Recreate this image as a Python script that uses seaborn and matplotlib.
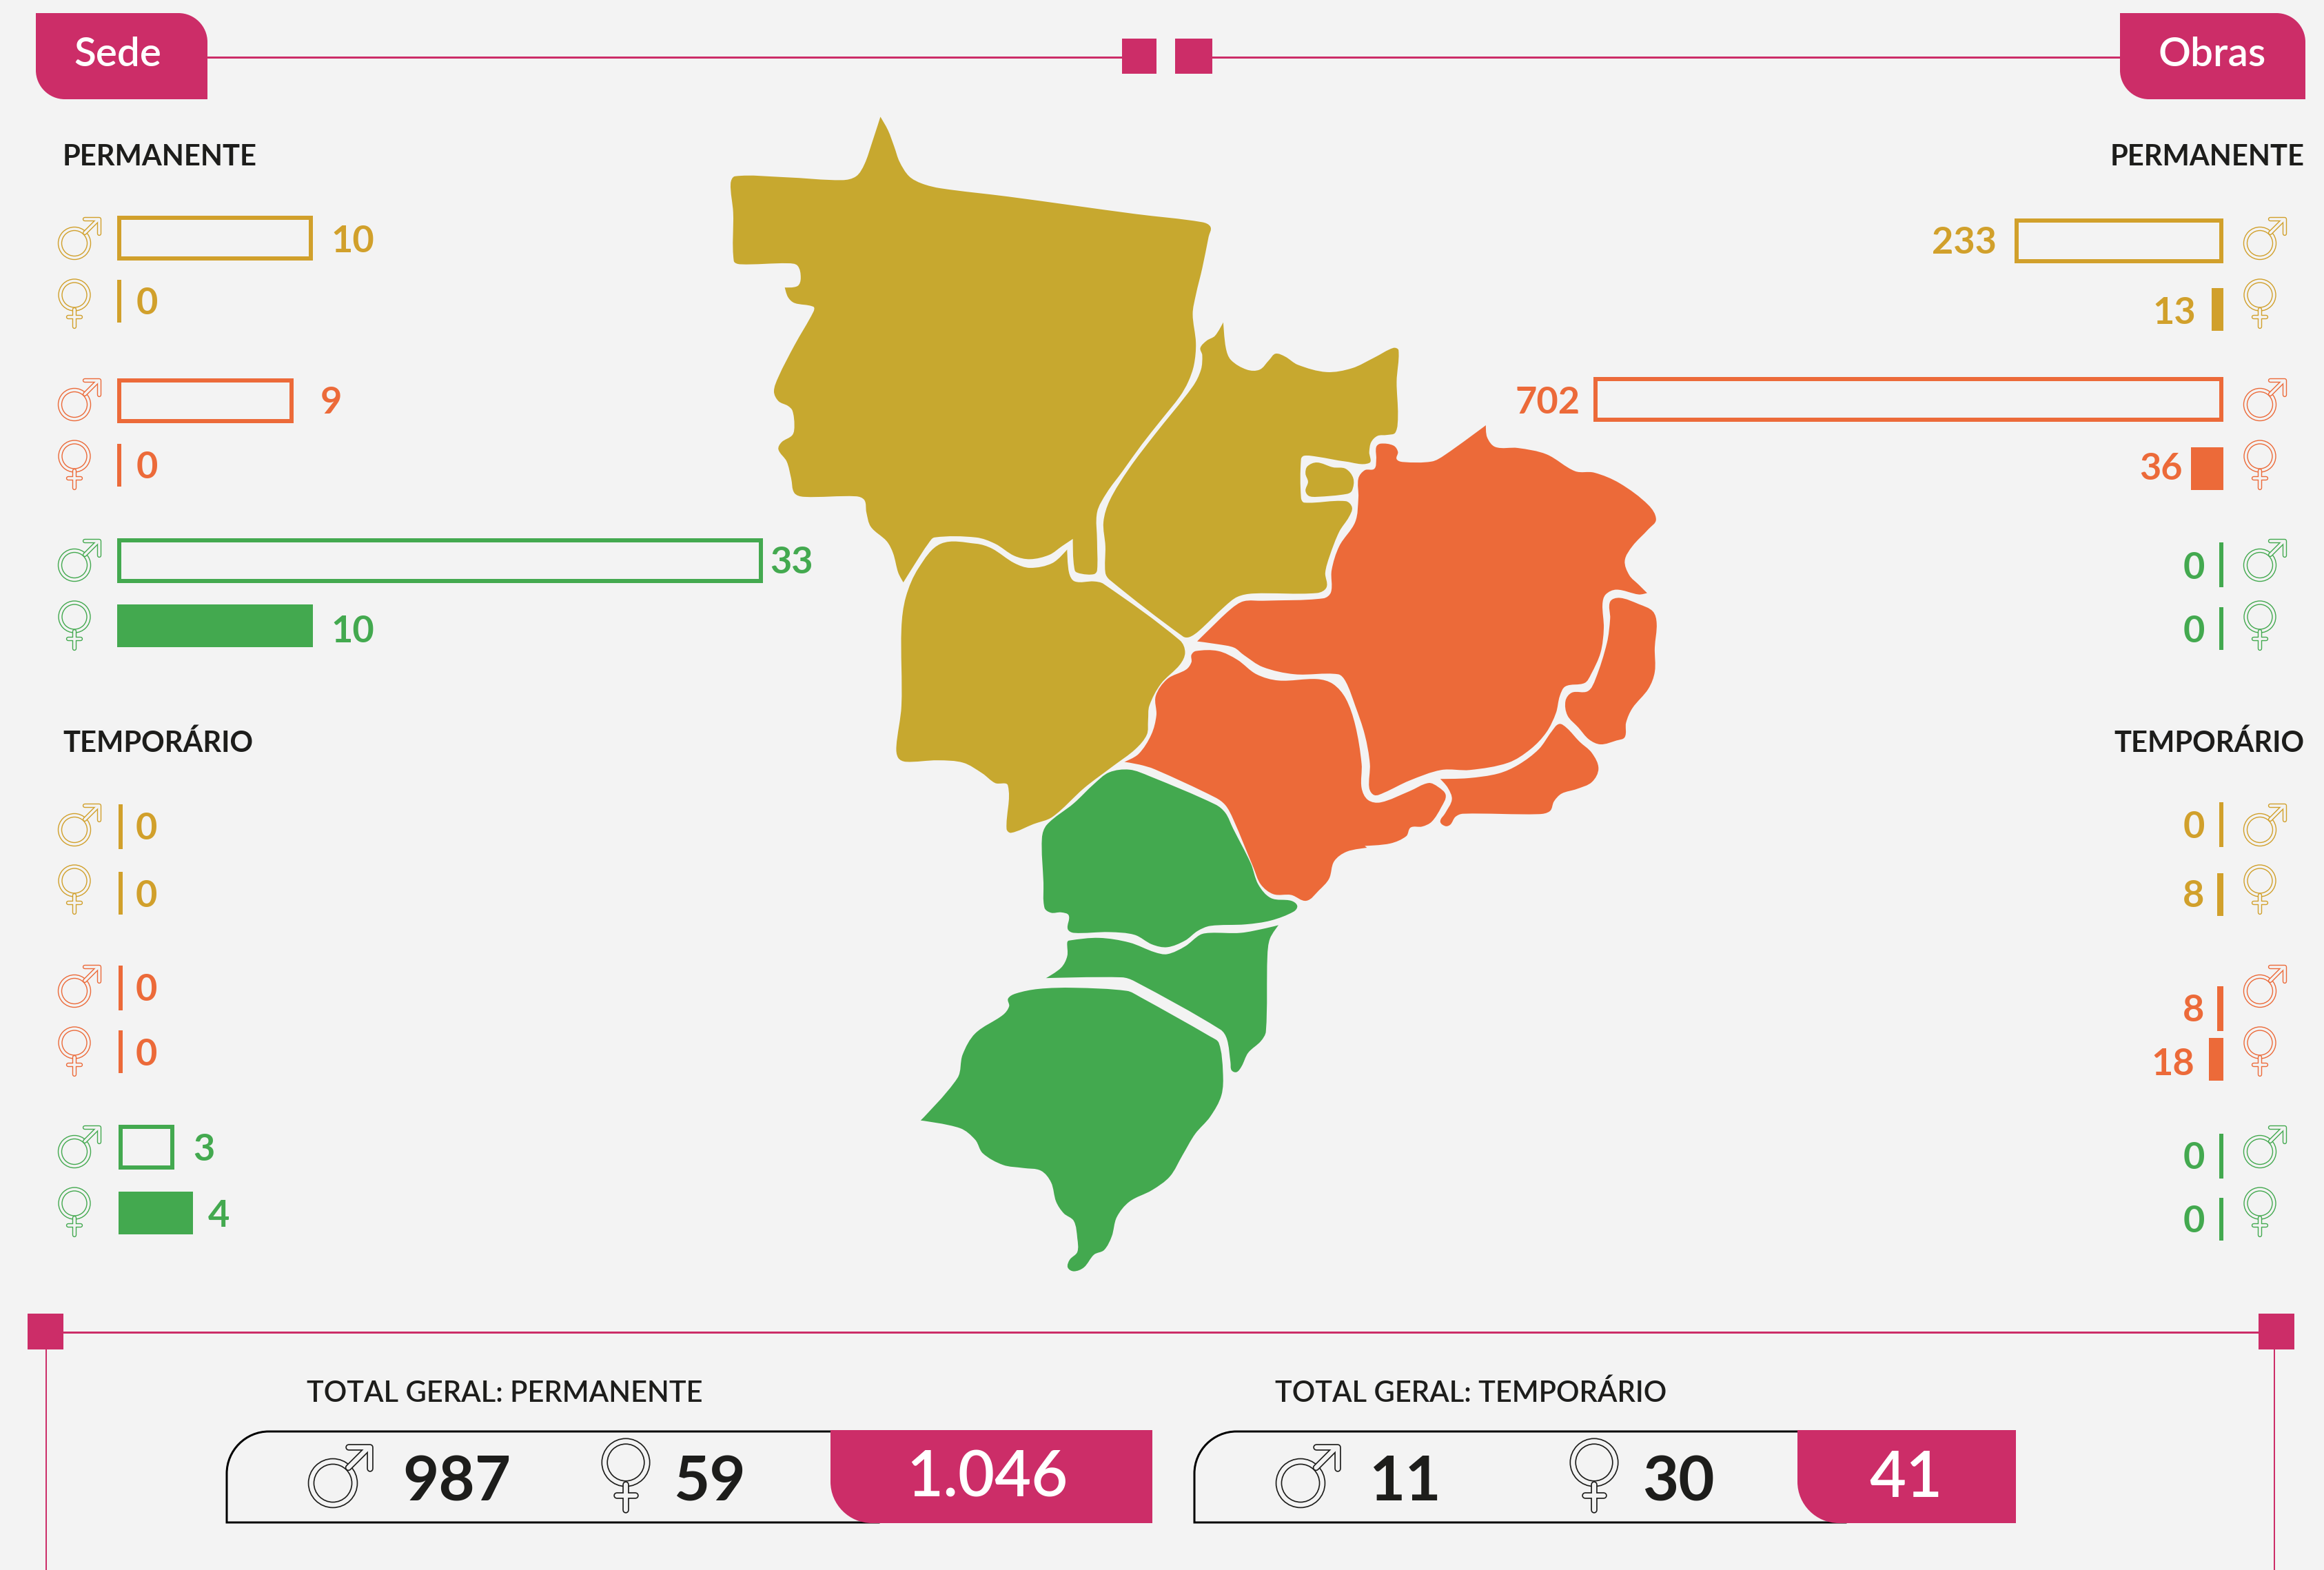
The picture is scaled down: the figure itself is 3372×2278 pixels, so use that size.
import matplotlib
matplotlib.use("Agg")
import matplotlib.pyplot as plt
from matplotlib.patches import Circle, PathPatch, Rectangle
from matplotlib.path import Path
import numpy as np
import seaborn as sns

W, H = 3372, 2278
PT = 0.72  # px to pt at dpi 100

BG = "#F3F3F3"
PINK = "#CC2D68"
DARK = "#1D1D1B"
GROUP_COLORS = ["#D1A02B", "#EC6A39", "#43A94F"]
MAP_GOLD = "#C7A82F"

# --- data
groups = ["g1", "g2", "g3"]
sede_perm_men = [10, 9, 33]
sede_perm_women = [0, 0, 10]
sede_temp_men = [0, 0, 3]
sede_temp_women = [0, 0, 4]
obras_perm_men = [233, 702, 0]
obras_perm_women = [13, 36, 0]
obras_temp_men = [0, 8, 0]
obras_temp_women = [8, 18, 0]

total_labels = ["TOTAL GERAL: PERMANENTE", "TOTAL GERAL: TEMPORÁRIO"]
total_men = ["987", "11"]
total_women = ["59", "30"]
total_all = ["1.046", "41"]

region_a = [(300,42),(312,70),(322,105),(330,135),(345,165),(365,180),(395,190),(500,207),(600,225),(700,243),(805,260),(818,270),(815,290),(805,355),(795,410),(790,450),(795,510),(792,555),(783,590),(770,620),(740,670),(710,720),(680,775),(655,820),(640,860),(640,920),(640,980),(635,988),(615,987),(605,980),(602,915),(585,930),(565,948),(535,957),(510,950),(480,925),(450,912),(385,912),(375,925),(355,965),(336,1005),(328,985),(320,945),(310,920),(285,890),(278,860),(275,835),(262,827),(180,828),(165,820),(160,790),(153,755),(140,730),(145,715),(162,700),(165,680),(162,650),(155,640),(140,630),(133,610),(140,580),(165,515),(195,445),(195,435),(165,427),(155,415),(150,395),(170,392),(175,375),(170,350),(155,345),(80,347),(70,340),(69,240),(65,180),(72,165),(150,167),(240,173),(262,165),(275,140),(287,95)]
region_b = [(838,467),(842,520),(850,545),(875,565),(895,565),(910,545),(920,532),(935,538),(955,555),(1000,570),(1040,562),(1075,540),(1105,520),(1113,525),(1110,590),(1112,660),(1108,695),(1095,700),(1080,702),(1070,715),(1067,735),(1067,758),(1030,755),(985,745),(965,743),(960,750),(960,830),(965,840),(1030,837),(1040,850),(1035,870),(1020,900),(1005,950),(998,985),(1000,1015),(985,1027),(885,1028),(860,1035),(840,1055),(800,1105),(785,1118),(775,1117),(660,1000),(653,985),(653,930),(650,880),(660,835),(690,770),(730,700),(790,600),(803,565),(805,535),(802,520),(812,505),(825,495)]
region_b2 = [(970,765),(985,757),(1010,767),(1030,770),(1042,790),(1040,815),(1032,822),(985,828),(972,826),(967,815),(971,797),(967,780)]
region_c = [(395,925),(450,925),(475,935),(510,965),(535,975),(570,965),(593,937),(596,985),(605,1003),(635,1003),(650,1008),(770,1125),(778,1150),(770,1175),(740,1215),(722,1260),(720,1290),(718,1320),(700,1350),(665,1385),(620,1430),(570,1490),(540,1505),(505,1523),(498,1515),(500,1425),(480,1420),(460,1400),(430,1378),(390,1373),(340,1376),(328,1368),(325,1345),(333,1260),(333,1100),(340,1035),(360,975)]
region_d = [(1250,680),(1252,705),(1265,725),(1300,727),(1345,740),(1390,775),(1420,778),(1460,800),(1505,845),(1517,875),(1505,895),(1480,930),(1468,960),(1475,990),(1490,1010),(1503,1027),(1490,1030),(1455,1020),(1438,1030),(1433,1050),(1435,1100),(1430,1150),(1415,1195),(1405,1213),(1375,1220),(1366,1240),(1360,1275),(1345,1315),(1320,1350),(1285,1378),(1225,1393),(1180,1393),(1130,1415),(1090,1440),(1075,1445),(1067,1430),(1068,1380),(1060,1320),(1045,1260),(1030,1210),(1018,1195),(950,1195),(900,1180),(870,1155),(855,1140),(830,1133),(797,1127),(810,1110),(850,1060),(870,1044),(900,1043),(995,1038),(1007,1025),(1008,980),(1020,930),(1045,880),(1050,830),(1050,790),(1060,773),(1075,770),(1078,750),(1078,725),(1085,718),(1105,722),(1112,735),(1110,750),(1120,756),(1165,755),(1185,742)]
region_e = [(1445,1045),(1460,1037),(1490,1050),(1512,1065),(1518,1090),(1515,1140),(1515,1190),(1505,1225),(1480,1265),(1470,1295),(1468,1325),(1455,1332),(1430,1340),(1412,1330),(1395,1305),(1378,1280),(1375,1250),(1385,1233),(1410,1230),(1422,1205),(1440,1130),(1445,1080)]
region_f_top = [(795,1147),(830,1147),(860,1165),(890,1195),(925,1208),(985,1205),(1010,1215),(1030,1245),(1045,1300),(1055,1380),(1055,1430),(1065,1455),(1085,1460),(1130,1437),(1160,1420),(1175,1428),(1187,1445),(1180,1470),(1165,1500),(1150,1510),(1132,1512),(1125,1530),(1100,1545),(1060,1550)]
region_f_low = [(1000,410),(960,420),(935,445),(925,490),(905,520),(880,547),(850,532),(815,530),(790,505),(775,460),(735,335),(720,300),(700,280),(580,207),(550,195),(520,188)]
region_f_back = [(705,1360),(725,1320),(733,1280),(732,1240),(750,1205),(780,1185),(788,1170),(788,1155)]
region_g = [(1145,232),(1200,230),(1260,218),(1300,195),(1340,155),(1365,110),(1380,90),(1395,100),(1420,135),(1445,165),(1458,205),(1445,240),(1415,258),(1385,270),(1370,290),(1362,315),(1340,323),(1190,322),(1175,330),(1165,350),(1155,354),(1145,342),(1155,320),(1168,285),(1160,255)]
region_h = [(490,215),(530,208),(570,225),(700,298),(720,320),(735,360),(770,450),(785,505),(810,540),(850,547),(862,560),(855,575),(810,598),(760,608),(690,612),(665,625),(640,650),(605,667),(575,660),(540,635),(490,628),(420,630),(408,620),(410,585),(395,577),(375,578),(362,565),(360,500),(357,385),(367,350),(420,295),(460,245)]
region_i = [(410,650),(470,643),(530,655),(580,680),(605,685),(640,665),(670,635),(690,630),(750,630),(800,618),(825,610),(808,645),(803,690),(800,885),(790,910),(765,940),(752,975),(742,990),(732,985),(730,965),(723,905),(710,880),(540,755),(515,745),(365,747),(395,720),(407,690),(407,655)]
region_j = [(305,787),(350,775),(420,772),(525,780),(550,795),(690,898),(707,915),(715,990),(712,1050),(690,1105),(660,1150),(635,1205),(610,1260),(575,1295),(530,1325),(505,1365),(495,1415),(480,1450),(460,1462),(440,1495),(420,1505),(408,1495),(412,1475),(427,1455),(427,1420),(420,1375),(400,1355),(385,1325),(375,1275),(355,1245),(320,1238),(280,1230),(240,1200),(225,1165),(195,1135),(117,1115),(190,1005),(200,945),(225,890),(280,842),(292,820),(290,800)]


def crop_a(pts):
    pts = np.array(pts, float)
    return np.c_[1000 + pts[:, 0] / 1.0814, 140 + pts[:, 1] / 1.4255]


def crop_b(pts):
    pts = np.array(pts, float)
    return np.c_[1250 + pts[:, 0] / 1.3635, 1000 + pts[:, 1] / 1.782]


def smooth_path(pts):
    """Closed smooth outline through the traced points, hard turns stay sharp"""
    nxt = np.roll(pts, -1, axis=0)
    prv = np.roll(pts, 1, axis=0)
    tan = nxt - prv
    tan = tan / np.linalg.norm(tan, axis=1, keepdims=True)
    seg = np.linalg.norm(nxt - pts, axis=1, keepdims=True)
    into = pts - prv
    out = nxt - pts
    turn = (into * out).sum(axis=1) / (np.linalg.norm(into, axis=1) * np.linalg.norm(out, axis=1))
    tan[turn < -0.2] = 0
    c1 = pts + tan * seg / 3
    c2 = nxt - np.roll(tan, -1, axis=0) * seg / 3
    verts = [pts[0]]
    codes = [Path.MOVETO]
    for a, b, c in zip(c1, c2, nxt):
        verts += [a, b, c]
        codes += [Path.CURVE4] * 3
    return Path(verts, codes)


def corner_box(x0, y0, x1, y1, tl=0, tr=0, br=0, bl=0):
    """Box with its own radius per corner, y grows downwards"""
    k = 0.45
    v = [(x0 + tl, y0), (x1 - tr, y0), (x1 - tr * k, y0), (x1, y0 + tr * k), (x1, y0 + tr),
         (x1, y1 - br), (x1, y1 - br * k), (x1 - br * k, y1), (x1 - br, y1),
         (x0 + bl, y1), (x0 + bl * k, y1), (x0, y1 - bl * k), (x0, y1 - bl),
         (x0, y0 + tl), (x0, y0 + tl * k), (x0 + tl * k, y0), (x0 + tl, y0)]
    c = [Path.MOVETO, Path.LINETO, Path.CURVE4, Path.CURVE4, Path.CURVE4,
         Path.LINETO, Path.CURVE4, Path.CURVE4, Path.CURVE4,
         Path.LINETO, Path.CURVE4, Path.CURVE4, Path.CURVE4,
         Path.LINETO, Path.CURVE4, Path.CURVE4, Path.CURVE4]
    return Path(v, c)


def gender_icon(ax, cx, cy, kind, color, s=1.0, edge=1.4):
    """Hollow male/female sign: fat coloured stroke with a thinner background stroke on top"""
    if kind == "m":
        r = 21 * s
        parts = [[(cx + 15 * s, cy - 15 * s), (cx + 34 * s, cy - 34 * s)],
                 [(cx + 15 * s, cy - 35 * s), (cx + 36 * s, cy - 35 * s), (cx + 36 * s, cy - 14 * s)]]
    else:
        r = 20.5 * s
        parts = [[(cx, cy + 21 * s), (cx, cy + 46 * s)],
                 [(cx - 9 * s, cy + 32 * s), (cx + 9 * s, cy + 32 * s)]]
    fat = 6.4 * s
    for lw, col in [(fat, color), (fat - 2 * edge, BG)]:
        ax.add_patch(Circle((cx, cy), r, fill=False, ec=col, lw=lw * PT))
        for part in parts:
            xs, ys = zip(*part)
            ax.plot(xs, ys, color=col, lw=lw * PT, solid_capstyle="round", solid_joinstyle="round")


def draw_bars(fig, x0, scale, direction, men, women, men_y, women_y, men_h=65, women_h=62):
    """Men as outlined bars and women as filled bars on one full-figure axes"""
    ax = fig.add_axes([0, 0, 1, 1])
    ax.patch.set_alpha(0)

    sns.barplot(x=men, y=men_y, hue=groups, palette=GROUP_COLORS, orient="y", native_scale=True,
                dodge=False, fill=False, saturation=1, errorbar=None, legend=False,
                width=men_h / np.diff(men_y).min(), linewidth=12 * PT, ax=ax)
    n_men = len(ax.patches)
    sns.barplot(x=women, y=women_y, hue=groups, palette=GROUP_COLORS, orient="y", native_scale=True,
                dodge=False, saturation=1, errorbar=None, legend=False,
                width=women_h / np.diff(women_y).min(), linewidth=0, ax=ax)

    for i, p in enumerate(ax.patches):
        # zero is still drawn in the picture, as a thin tick
        if p.get_width() == 0:
            p.set_width(6 / scale)
        if i < n_men:
            p.set_clip_path(p)  # keeps the stroke inside the bar

    if direction > 0:
        ax.set_xlim(-x0 / scale, (W - x0) / scale)
    else:
        ax.set_xlim(x0 / scale, (x0 - W) / scale)
    ax.set_ylim(H, 0)
    ax.set_axis_off()
    return ax


def value_labels(ax, values, xs, ys, ha):
    for v, x, y, c in zip(values, xs, ys, GROUP_COLORS):
        ax.text(x, y + 4, str(v), color=c, ha=ha, va="center", fontsize=39, fontweight="bold")


sns.set_theme(style="white")
plt.rcParams["font.family"] = ["Lato", "DejaVu Sans"]

fig = plt.figure(figsize=(W / 100, H / 100), dpi=100, facecolor=BG)

# page furniture, map, icons and texts live on one axes in picture pixels
ax = fig.add_axes([0, 0, 1, 1])
ax.set_xlim(0, W)
ax.set_ylim(H, 0)
ax.set_axis_off()

# top rule and tabs
ax.plot([301, 1630], [83, 83], color=PINK, lw=3 * PT)
ax.plot([1758, 3076], [83, 83], color=PINK, lw=3 * PT)
ax.add_patch(Rectangle((1628, 56), 50, 51, color=PINK, lw=0))
ax.add_patch(Rectangle((1705, 56), 54, 51, color=PINK, lw=0))
ax.add_patch(PathPatch(corner_box(52, 19, 301, 144, tr=42, bl=42), fc=PINK, lw=0))
ax.add_patch(PathPatch(corner_box(3076, 19, 3345, 144, tr=42, bl=42), fc=PINK, lw=0))
ax.text(171, 80, "Sede", color="white", ha="center", va="center", fontsize=42, fontweight="semibold")
ax.text(3210, 80, "Obras", color="white", ha="center", va="center", fontsize=42, fontweight="semibold")

# section titles
for x, ha in [(91, "left"), (3344, "right")]:
    ax.text(x, 228, "PERMANENTE", color=DARK, ha=ha, va="center", fontsize=30, fontweight="bold")
    ax.text(x, 1075, "TEMPORÁRIO", color=DARK, ha=ha, va="center_baseline", fontsize=30, fontweight="bold")

# map
gold_regions = [crop_a(region_a), crop_a(region_b), crop_a(region_b2), crop_a(region_c)]
orange_regions = [crop_a(region_d), crop_a(region_e),
                  np.vstack([crop_a(region_f_top), crop_b(region_f_low), crop_a(region_f_back)]),
                  crop_b(region_g)]
green_regions = [crop_b(region_h), crop_b(region_i), crop_b(region_j)]
for regions, col in [(gold_regions, MAP_GOLD), (orange_regions, GROUP_COLORS[1]), (green_regions, GROUP_COLORS[2])]:
    for pts in regions:
        ax.add_patch(PathPatch(smooth_path(pts), fc=col, lw=0))

# sign icons next to the bars
for cx in [108, 3279]:
    for col, ym, yf in zip(GROUP_COLORS, [353, 587, 820], [428, 662, 895]):
        gender_icon(ax, cx, ym, "m", col)
        gender_icon(ax, cx, yf, "f", col)
    for col, ym, yf in zip(GROUP_COLORS, [1204, 1438, 1671], [1278, 1513, 1746]):
        gender_icon(ax, cx, ym, "m", col)
        gender_icon(ax, cx, yf, "f", col)

# value labels
value_labels(ax, sede_perm_men, [480, 465, 1117], [346, 580, 813], "left")
value_labels(ax, sede_perm_women, [198, 198, 480], [437, 675, 913], "left")
value_labels(ax, sede_temp_men, [197, 197, 280], [1199, 1433, 1664], "left")
value_labels(ax, sede_temp_women, [197, 197, 302], [1296, 1527, 1761], "left")
value_labels(ax, obras_perm_men, [2897, 2293, 3199], [349, 580, 820], "right")
value_labels(ax, obras_perm_women, [3186, 3167, 3199], [450, 676, 912], "right")
value_labels(ax, obras_temp_men, [3199, 3198, 3199], [1197, 1463, 1677], "right")
value_labels(ax, obras_temp_women, [3198, 3184, 3199], [1297, 1540, 1769], "right")

# bottom frame
ax.plot([92, 3277], [1933, 1933], color=PINK, lw=3 * PT)
ax.add_patch(Rectangle((40, 1906), 52, 52, color=PINK, lw=0))
ax.add_patch(Rectangle((3277, 1906), 52, 52, color=PINK, lw=0))
ax.plot([67, 67], [1958, H], color=PINK, lw=2 * PT)
ax.plot([3300, 3300], [1958, H], color=PINK, lw=2 * PT)

# totals
box_left = [329, 1733]
box_split = [1205, 2608]
box_right = [1672, 2925]
title_x = [445, 1850]
men_icon_x = [483, 1887]
women_icon_x = [908, 2313]
men_text_x = [584, 1986]
women_text_x = [977, 2383]
grand_x = [1432, 2766]
for i in range(2):
    ax.text(title_x[i], 2018, total_labels[i], color=DARK, ha="left", va="center_baseline",
            fontsize=30, fontweight="semibold")
    ax.add_patch(PathPatch(corner_box(box_left[i], 2077, box_split[i] + 70, 2209, tl=61),
                           fc="none", ec="black", lw=3 * PT))
    ax.add_patch(PathPatch(corner_box(box_split[i], 2075, box_right[i], 2210, bl=60), fc=PINK, lw=0))
    gender_icon(ax, men_icon_x[i], 2152, "m", DARK, s=1.5, edge=1.7)
    gender_icon(ax, women_icon_x[i], 2122, "f", DARK, s=1.5, edge=1.7)
    ax.text(men_text_x[i], 2151, total_men[i], color=DARK, ha="left", va="center", fontsize=65, fontweight="bold")
    ax.text(women_text_x[i], 2151, total_women[i], color=DARK, ha="left", va="center", fontsize=65, fontweight="bold")
    ax.text(grand_x[i], 2146, total_all[i], color="white", ha="center", va="center",
            fontsize=66, fontweight="semibold")

# bars, one full-figure axes per panel with its own value scale
draw_bars(fig, 170, 28.4, 1, sede_perm_men, sede_perm_women, [345, 581, 813], [437, 675, 908])
draw_bars(fig, 171.5, 27.0, 1, sede_temp_men, sede_temp_women, [1199, 1433, 1664], [1296, 1526, 1760])
draw_bars(fig, 3226, 1.302, -1, obras_perm_men, obras_perm_women, [349, 579, 819], [449, 680, 912])
draw_bars(fig, 3226, 1.15, -1, obras_temp_men, obras_temp_women, [1196, 1463, 1677], [1298, 1537, 1769])

plt.savefig("out.png", dpi=100, facecolor=BG)
